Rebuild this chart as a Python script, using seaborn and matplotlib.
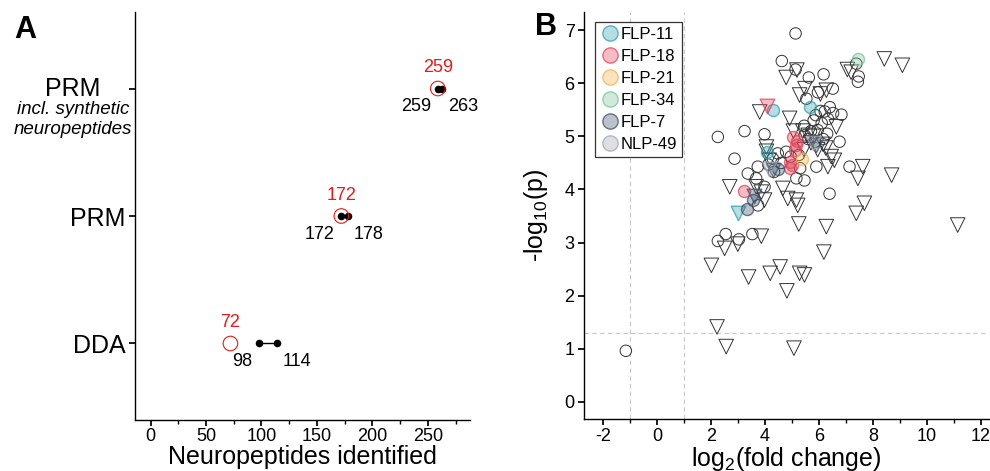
import numpy as np
import pandas as pd
import matplotlib
matplotlib.use("Agg")
import matplotlib.pyplot as plt
from matplotlib.lines import Line2D
from matplotlib.colors import to_rgba
import seaborn as sns

# ── Panel A data ──────────────────────────────────────────────────────────────
methods = ["DDA", "PRM", "PRM_syn"]
low_ids = [98, 172, 259]
high_ids = [114, 178, 263]
ref_ids = [72, 172, 259]

# ── Panel B data ──────────────────────────────────────────────────────────────
circ_x = [5.13, 4.62, 5.13, 5.62, 6.17, 5.96, 6.51, 7.38, 7.47, 7.44, 5.53, 6.21,
          6.52, 6.83, 6.33, 6.40, 6.05, 5.88, 5.45, 5.70, 5.95, 6.10, 6.30, 6.15,
          5.60, 5.85, 6.76, 5.47, 5.80, 2.25, 3.24, 3.98, 2.87, 3.36, 3.73, 3.67,
          3.98, 4.29, 4.47, 4.78, 5.16, 5.46, 5.90, 7.13, 6.39, 3.74, 4.33, 4.95,
          5.30, 5.25, 4.60, 4.12, 2.25, 2.54, 3.03, 3.53, -1.16]
circ_y = [6.94, 6.42, 6.26, 6.11, 6.17, 5.83, 5.90, 6.37, 6.13, 6.03, 5.71, 5.47,
          5.44, 5.41, 5.33, 5.55, 5.48, 5.40, 5.20, 5.10, 5.12, 5.25, 5.05, 4.95,
          4.95, 4.90, 4.90, 5.02, 5.30, 4.99, 5.10, 5.04, 4.58, 4.30, 4.43, 4.21,
          4.05, 4.58, 4.68, 4.71, 4.21, 4.17, 4.43, 4.43, 3.92, 3.70, 4.33, 4.62,
          4.40, 4.65, 4.50, 4.47, 3.03, 3.16, 3.06, 3.16, 0.96]

tri_x = [8.42, 9.09, 7.19, 7.05, 4.78, 5.18, 5.48, 5.28, 6.27, 6.05, 4.91, 3.80,
         6.64, 4.05, 4.05, 5.40, 5.60, 5.80, 5.70, 5.95, 6.15, 5.45, 6.57, 6.33,
         6.45, 6.25, 7.62, 7.44, 8.69, 7.68, 7.38, 6.27, 5.25, 11.14, 2.69, 3.67,
         3.86, 3.98, 4.66, 4.84, 5.16, 5.21, 3.86, 2.50, 2.99, 6.18, 2.01, 3.39,
         4.19, 4.56, 5.28, 5.46, 4.81, 2.22, 2.56, 5.07, 4.15, 5.05]
tri_y = [6.46, 6.34, 6.21, 6.26, 6.11, 6.25, 5.90, 5.78, 5.87, 5.80, 5.34, 5.46,
         5.18, 4.80, 4.72, 5.10, 5.02, 5.00, 4.88, 4.75, 4.85, 4.75, 4.55, 4.43,
         4.62, 4.78, 4.43, 4.21, 4.27, 3.74, 3.55, 3.30, 3.35, 3.33, 4.05, 4.05,
         3.95, 3.80, 4.02, 3.83, 3.80, 3.70, 3.12, 2.89, 2.97, 2.82, 2.57, 2.35,
         2.42, 2.54, 2.42, 2.39, 2.09, 1.41, 1.04, 1.01, 4.55, 5.10]

pep_group = ["FLP-11", "FLP-11", "FLP-11", "FLP-11",
             "FLP-18", "FLP-18", "FLP-18", "FLP-18", "FLP-18", "FLP-18", "FLP-18",
             "FLP-18", "FLP-18",
             "FLP-21", "FLP-34",
             "FLP-7", "FLP-7", "FLP-7", "FLP-7", "FLP-7", "FLP-7",
             "NLP-49", "NLP-49"]
pep_shape = ["o", "o", "o", "v",
             "v", "o", "o", "o", "o", "o", "o", "o", "o",
             "o", "o",
             "o", "o", "o", "v", "v", "v",
             "v", "v"]
pep_x = [4.29, 5.67, 4.07, 2.99,
         4.07, 5.03, 5.15, 5.20, 5.12, 4.91, 4.91, 4.98, 3.22,
         5.38, 7.46,
         4.47, 3.55, 3.33, 4.29, 5.90, 3.60,
         5.77, 4.15]
pep_y = [5.49, 5.56, 4.71, 3.55,
         5.57, 4.98, 4.83, 4.92, 4.75, 4.52, 4.40, 4.47, 3.97,
         4.58, 6.45,
         4.38, 3.81, 3.64, 4.36, 4.83, 3.88,
         4.88, 4.38]

groups = ["FLP-11", "FLP-18", "FLP-21", "FLP-34", "FLP-7", "NLP-49"]
group_colors = ["#2f9fae", "#e0445a", "#f2b24a", "#7cc295", "#3d5069", "#a0a6b2"]

# ── Style ─────────────────────────────────────────────────────────────────────
sns.set_theme(style="ticks")
plt.rcParams["font.family"] = ["Liberation Sans", "DejaVu Sans"]
plt.rcParams["mathtext.default"] = "regular"
plt.rcParams["axes.unicode_minus"] = False
plt.rcParams["axes.linewidth"] = 1.0
for key in ["text.color", "axes.labelcolor", "xtick.color", "ytick.color",
            "axes.edgecolor"]:
    plt.rcParams[key] = "black"
plt.rcParams["xtick.major.size"] = 4
plt.rcParams["ytick.major.size"] = 4
plt.rcParams["xtick.minor.size"] = 3
plt.rcParams["xtick.major.pad"] = 2
plt.rcParams["ytick.major.pad"] = 3

fig = plt.figure(figsize=(9.9, 4.71), dpi=100)
axA = fig.add_axes([0.1364, 0.1083, 0.3383, 0.8662])
axB = fig.add_axes([0.5902, 0.1098, 0.4088, 0.8654])

# ── Panel A: dumbbell ─────────────────────────────────────────────────────────
red = "#e41a1c"
ypos = np.arange(len(methods))
for i in ypos:
    axA.plot([low_ids[i], high_ids[i]], [i, i], color="black", lw=1.0, zorder=2)
dfA = pd.DataFrame({"y": np.concatenate([ypos, ypos]),
                    "x": low_ids + high_ids})
sns.scatterplot(data=dfA, x="x", y="y", ax=axA, color="black", s=30,
                edgecolor="black", linewidth=0, zorder=3)
dfR = pd.DataFrame({"y": ypos, "x": ref_ids})
sns.scatterplot(data=dfR, x="x", y="y", ax=axA, s=110, facecolor="none",
                edgecolor=red, linewidth=0.8, zorder=4)

for i in ypos:
    axA.annotate(str(ref_ids[i]), (ref_ids[i], i), xytext=(0, 9),
                 textcoords="offset points", ha="center", va="bottom",
                 color=red, fontsize=13)
    axA.annotate(str(low_ids[i]), (low_ids[i], i), xytext=(-5, -7),
                 textcoords="offset points", ha="right", va="top", fontsize=13)
    axA.annotate(str(high_ids[i]), (high_ids[i], i), xytext=(4, -7),
                 textcoords="offset points", ha="left", va="top", fontsize=13)

axA.set_xlim(-14, 288)
axA.set_ylim(-0.6, 2.6)
axA.set_xticks([0, 50, 100, 150, 200, 250])
axA.set_xticks([25, 75, 125, 175, 225, 275], minor=True)
axA.tick_params(axis="x", labelsize=13)
axA.set_yticks(ypos)
axA.set_yticklabels(["DDA", "PRM", ""], fontsize=18)
axA.set_xlabel("Neuropeptides identified", fontsize=18, labelpad=0)
axA.set_ylabel("")
ytr = axA.get_yaxis_transform()
axA.text(-0.186, 2.0, "PRM", transform=ytr, ha="center", va="center", fontsize=18)
axA.annotate("incl. synthetic\nneuropeptides", (-0.186, 2), xycoords=ytr,
             xytext=(0, -9), textcoords="offset points", ha="center", va="top",
             fontsize=13.5, style="italic", linespacing=1.2)
sns.despine(ax=axA)

# ── Panel B: volcano ──────────────────────────────────────────────────────────
axB.axvline(-1, color="#c8c8c8", ls=(0, (4, 3)), lw=0.8, zorder=0)
axB.axvline(1, color="#c8c8c8", ls=(0, (4, 3)), lw=0.8, zorder=0)
axB.axhline(-np.log10(0.05), color="#c8c8c8", ls=(0, (4, 3)), lw=0.8, zorder=0)

dfC = pd.DataFrame({"x": circ_x, "y": circ_y})
dfT = pd.DataFrame({"x": tri_x, "y": tri_y})
sns.scatterplot(data=dfC, x="x", y="y", ax=axB, marker="o", s=68,
                facecolor="none", edgecolor="#333333", linewidth=0.7, zorder=2)
sns.scatterplot(data=dfT, x="x", y="y", ax=axB, marker="v", s=110,
                facecolor="none", edgecolor="#333333", linewidth=0.7, zorder=2)

dfP = pd.DataFrame({"group": pep_group, "shape": pep_shape, "x": pep_x, "y": pep_y})
handles = []
for g, c in zip(groups, group_colors):
    fc = to_rgba(c, 0.35)
    ec = to_rgba(c, 0.75)
    for shp, size in [("o", 75), ("v", 110)]:
        sub = dfP[(dfP["group"] == g) & (dfP["shape"] == shp)]
        if len(sub):
            sns.scatterplot(data=sub, x="x", y="y", ax=axB, marker=shp, s=size,
                            facecolor=fc, edgecolor=ec, linewidth=1.0, zorder=3)
    handles.append(Line2D([], [], marker="o", ls="", markersize=11,
                          markerfacecolor=fc, markeredgecolor=ec,
                          markeredgewidth=1.0, label=g))

leg = axB.legend(handles=handles, loc="upper left", bbox_to_anchor=(0.026, 0.975),
                 frameon=True, fancybox=False, fontsize=12, handletextpad=0.05,
                 labelspacing=0.42, borderpad=0.3, handlelength=1.2,
                 borderaxespad=0)
leg.get_frame().set_edgecolor("black")
leg.get_frame().set_linewidth(0.9)

axB.set_xlim(-2.7, 12.3)
axB.set_ylim(-0.33, 7.35)
axB.set_xticks(np.arange(-2, 13, 2))
axB.set_xticks(np.arange(-1, 13, 2), minor=True)
axB.set_yticks(np.arange(0, 8))
axB.tick_params(labelsize=13)
axB.set_xlabel("log$_2$(fold change)", fontsize=18, labelpad=0)
axB.set_ylabel("-log$_{10}$(p)", fontsize=18)
axB.yaxis.set_label_coords(-0.085, 0.5)
sns.despine(ax=axB)

fig.text(0.014, 0.968, "A", fontsize=22, fontweight="bold", va="top")
fig.text(0.540, 0.975, "B", fontsize=22, fontweight="bold", va="top")

fig.savefig("out.png", dpi=100)
